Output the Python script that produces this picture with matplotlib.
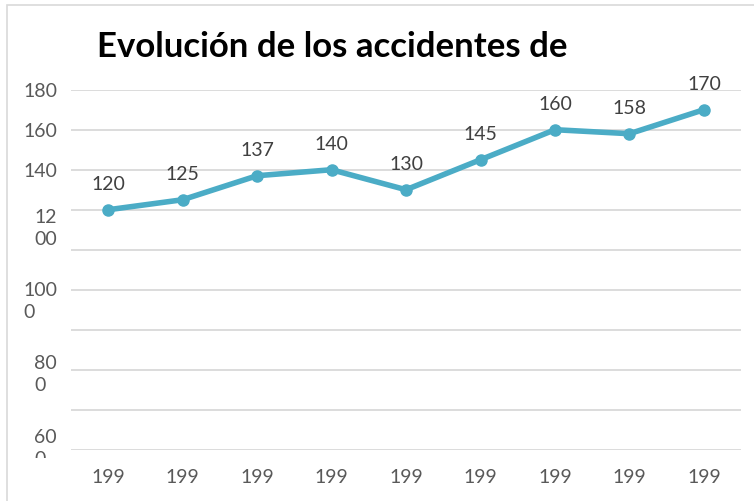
import matplotlib.pyplot as plt
from matplotlib.patches import Rectangle
from matplotlib.transforms import Bbox, TransformedBbox



def graph():
    annees = ["199", "199", "199", "199", "199", "199", "199", "199", "199"]  #les annees sont coupees dans l'original
    valeurs = [120, 125, 137, 140, 130, 145, 160, 158, 170]
    x = range(len(valeurs))

    plt.rcParams['font.family'] = ['Lato', 'DejaVu Sans']

    # Initialise the figure
    fig = plt.figure(figsize=(7.54, 5.01), dpi=100, facecolor="white")
    ax = fig.add_axes([0.094, 0.102, 0.889, 0.719])

    # cadre gris autour du graphe
    fig.patches.append(Rectangle((7 / 754, -0.1), 1.1, 1.1 - 5 / 501, transform=fig.transFigure,
                                 fill=False, edgecolor="#D9D9D9", linewidth=1.2))

    # Plot data
    ax.plot(x, valeurs, linewidth=4, linestyle='solid', color="#4BACC6",
            marker='o', markersize=8, zorder=3)
    for i, v in enumerate(valeurs):  #etiquette au dessus de chaque point
        ax.annotate(str(v), (i, v), xytext=(0, 18), textcoords='offset points',
                    ha='center', va='center', color="#404040", fontsize=14)

    # Draw xlabels
    ax.set_xlim(-0.5, len(valeurs) - 0.5)
    ax.set_xticks(list(x), annees, color="#595959", size=14)

    # Draw ylabels
    ax.set_ylim(0, 180)
    ax.set_yticks(range(0, 181, 20), ["", "", "", "", "", "", "", "140", "160", "180"],
                  color="#595959", size=14)
    ax.set_yticks([112.5, 76, 39.5, 2.5],
                  ["12\n00", "100\n0", "80\n0", "60\n0"], minor=True)
    for lab in ax.get_yticklabels(minor=True):
        lab.set_color("#595959")
        lab.set_fontsize(14)
        lab.set_multialignment('left')
        lab.set_linespacing(1.35)
    clip = TransformedBbox(Bbox([[0, 43 / 501], [1, 1]]), fig.transFigure)
    dernier = ax.get_yticklabels(minor=True)[-1]
    dernier.set_clip_box(clip)
    dernier.set_clip_on(True)

    ax.tick_params(axis='both', which='both', length=0)
    ax.tick_params(axis='x', pad=14)
    ax.tick_params(axis='y', which='both', pad=10)
    ax.grid(axis='y', which='major', color="#D9D9D9", linewidth=1.3)
    ax.set_axisbelow(True)
    for s in ax.spines.values():
        s.set_visible(False)

    # Titre
    fig.text(97 / 754, 1 - 47 / 501, "Evolución de los accidentes de", fontsize=25,
             fontweight='bold', color="black", ha='left', va='center')

    # Save the graph
    plt.savefig("out.png", dpi=100)
    plt.close()

graph()
